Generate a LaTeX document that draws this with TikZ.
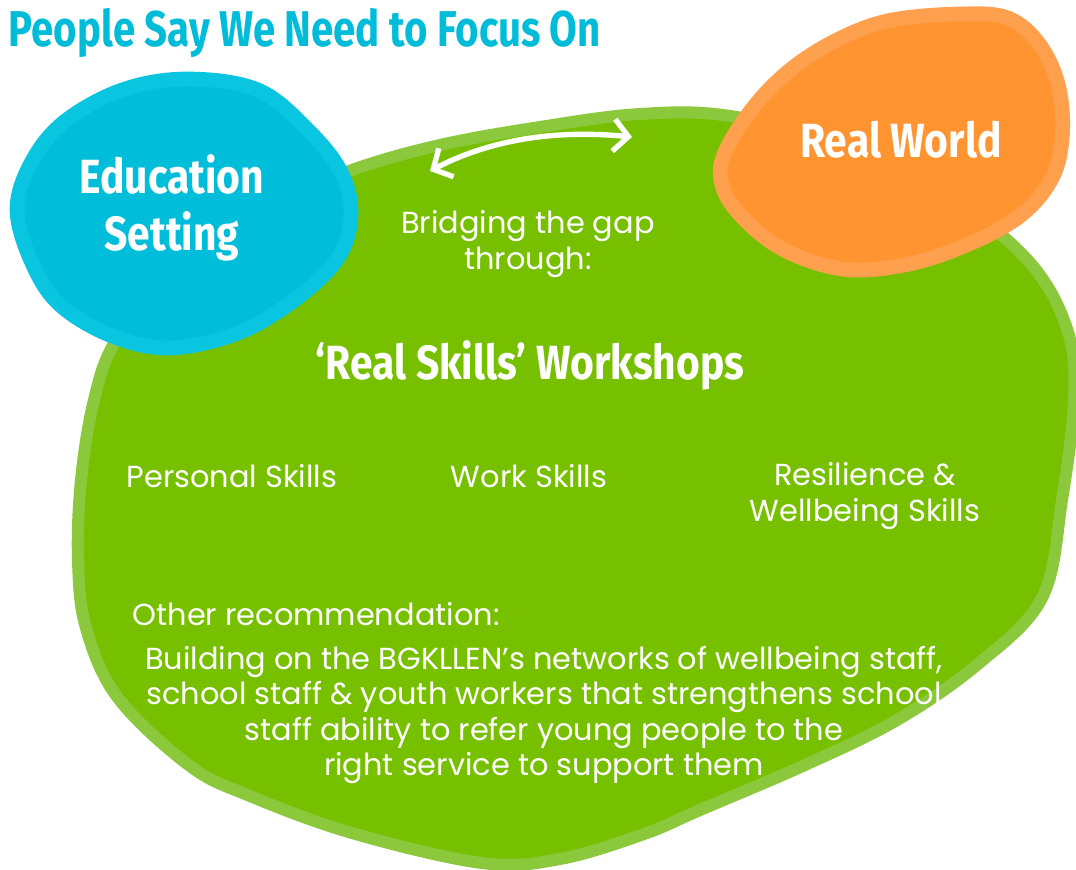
\documentclass[tikz,border=0pt]{standalone}
\usepackage{fontspec}
\usetikzlibrary{arrows.meta}
\newfontfamily\titlefont[FakeStretch=0.8]{Fira Sans}
\newfontfamily\condfont[FakeStretch=0.85]{Fira Sans}
\newfontfamily\bodyfont{Poppins}
\definecolor{titlecyan}{HTML}{00BCD9}
\definecolor{blueOuter}{HTML}{0AC5E0}
\definecolor{blueInner}{HTML}{00BEDA}
\definecolor{orangeOuter}{HTML}{FFA04E}
\definecolor{orangeInner}{HTML}{FF9430}
\definecolor{greenOuter}{HTML}{8CC83C}
\definecolor{greenInner}{HTML}{77C000}
\tikzset{
  blob/.style={line join=round},
  boldlabel/.style={text=white, font=\condfont\bfseries\fontsize{36}{43}\selectfont, align=center},
  bodylabel/.style={text=white, font=\bodyfont\fontsize{22.8}{26.5}\selectfont, align=center},
  gaparrow/.style={white, line width=4pt, line cap=round, {Straight Barb[length=11pt,width=24pt,line width=4pt]}-{Straight Barb[length=11pt,width=24pt,line width=4pt]}}
}
\begin{document}
\begin{tikzpicture}[x=0.75pt,y=-0.75pt]
\useasboundingbox (0,0) rectangle (1076,870);
% green blob
\draw[blob, fill=greenInner, draw=greenOuter, line width=9pt]
  plot[smooth cycle, tension=0.6] coordinates {
  (482,863) (352,833) (250,796) (190,766) (118,698) (86,628) (78,560) (81,480) (94,400)
  (116,340) (175,262) (262,208) (352,170) (440,145) (540,127) (640,114) (730,116)
  (850,146) (960,205) (1032,265) (1068,332) (1074,400) (1062,500) (1042,598)
  (978,664) (897,720) (805,765) (700,810) (644,834) (560,859)};
% blue blob
\draw[blob, fill=blueInner, draw=blueOuter, line width=11pt]
  plot[smooth cycle, tension=0.6] coordinates {
  (187,79) (258,90) (308,130) (341,172) (351,215) (338,258) (296,299) (238,333)
  (170,348) (112,336) (60,305) (32,263) (17,210) (31,163) (64,122) (122,90)};
% orange blob
\draw[blob, fill=orangeInner, draw=orangeOuter, line width=11pt]
  plot[smooth cycle, tension=0.6] coordinates {
  (725,152) (756,104) (795,66) (843,37) (892,20) (960,14) (1008,18) (1040,45)
  (1059,88) (1062,140) (1050,182) (1016,219) (957,249) (899,266) (842,269)
  (784,250) (742,217) (722,185)};
% arrow
\coordinate (arrL) at (430,171);
\coordinate (arrR) at (632,137);
\draw[gaparrow] (arrL) .. controls (478,146) and (540,128) .. (arrR);
% texts
\node[anchor=west, text=titlecyan, font=\titlefont\bfseries\fontsize{37.7}{42}\selectfont] (title) at (4,33) {People Say We Need to Focus On};
\node[boldlabel] (edu) at (172,208) {Education\\Setting};
\node[boldlabel] (real) at (901,140) {Real World};
\node[boldlabel] (workshops) at (530,365) {‘Real Skills’ Workshops};
\node[bodylabel] (bridge) at (528,244) {Bridging the gap\\through:};
\node[bodylabel] (personal) at (232,476) {Personal Skills};
\node[bodylabel] (work) at (529,476) {Work Skills};
\node[bodylabel] (resil) at (865,496) {Resilience \&\\Wellbeing Skills};
\node[bodylabel, anchor=west] (other) at (128,614) {Other recommendation:};
\node[bodylabel] (para) at (544,715) {Building on the BGKLLEN’s networks of wellbeing staff,\\school staff \& youth workers that strengthens school\\staff ability to refer young people to the\\right service to support them};
\end{tikzpicture}
\end{document}
